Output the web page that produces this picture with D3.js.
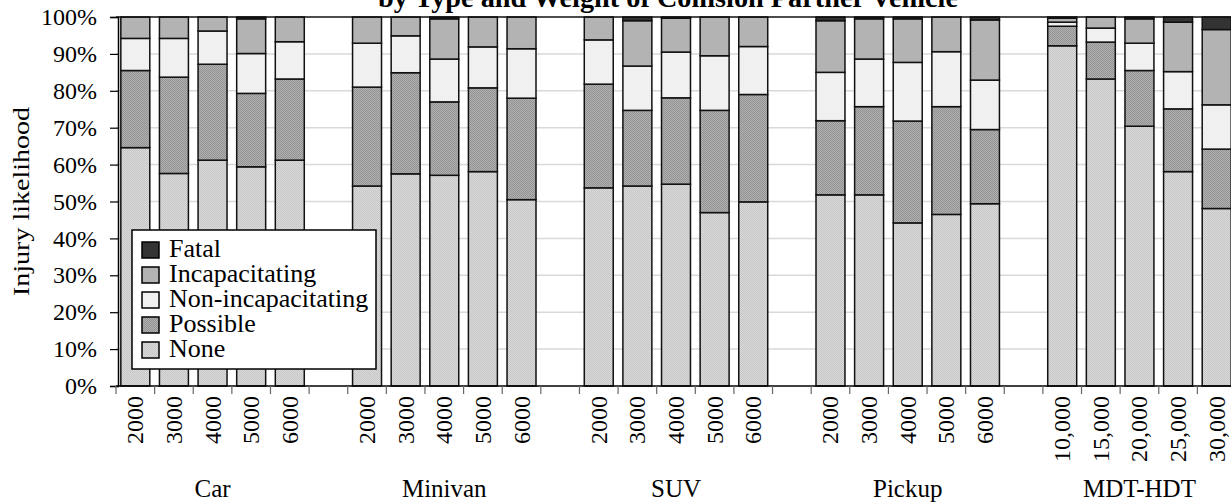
<!DOCTYPE html>
<html>
<head>
<meta charset="utf-8">
<script src="https://cdn.jsdelivr.net/npm/d3@7"></script>
<style>
  body { margin: 0; background: #fff; }
  svg text { font-family: "Liberation Serif", "Times New Roman", serif; fill: #000; }
</style>
</head>
<body>
<div id="chart"></div>
<script>
// vehicle types and the weight classes of the collision partner
var groups = ["Car", "Minivan", "SUV", "Pickup", "MDT-HDT"];
var weights = [
  ["2000", "3000", "4000", "5000", "6000"],
  ["2000", "3000", "4000", "5000", "6000"],
  ["2000", "3000", "4000", "5000", "6000"],
  ["2000", "3000", "4000", "5000", "6000"],
  ["10,000", "15,000", "20,000", "25,000", "30,000"]
];

// share of each injury level (%), 25 bars in group order
var none     = [64.6, 57.6, 61.2, 59.4, 61.2,  54.2, 57.5, 57.1, 58.1, 50.5,  53.7, 54.2, 54.7, 47.0, 49.9,  51.8, 51.8, 44.2, 46.5, 49.4,  92.2, 83.2, 70.4, 58.1, 48.1];
var possible = [20.9, 26.1, 26.0, 19.9, 22.0,  26.8, 27.4, 19.9, 22.7, 27.5,  28.1, 20.5, 23.4, 27.7, 29.1,  20.1, 23.9, 27.6, 29.2, 20.1,   5.3, 10.0, 15.1, 17.0, 16.1];
var nonInc   = [ 8.7, 10.5,  9.0, 10.8, 10.1,  11.9, 10.0, 11.6, 11.1, 13.4,  12.0, 12.0, 12.4, 14.8, 13.0,  13.1, 12.9, 15.9, 14.9, 13.4,   1.1,  3.8,  7.4, 10.1, 12.0];
var incap    = [ 5.8,  5.8,  3.8,  9.4,  6.7,   7.1,  5.1, 10.9,  8.1,  8.6,   6.2, 12.3,  9.2, 10.5,  8.0,  14.0, 10.9, 11.8,  9.4, 16.3,   1.1,  3.0,  6.6, 13.4, 20.4];
var fatal    = [ 0.0,  0.0,  0.0,  0.5,  0.0,   0.0,  0.0,  0.5,  0.0,  0.0,   0.0,  1.0,  0.3,  0.0,  0.0,   1.0,  0.5,  0.5,  0.0,  0.8,   0.3,  0.0,  0.5,  1.4,  3.4];

var seriesKeys   = ["None", "Possible", "Non-incapacitating", "Incapacitating", "Fatal"];
var seriesValues = [none, possible, nonInc, incap, fatal];
var yTicks = [0, 10, 20, 30, 40, 50, 60, 70, 80, 90, 100];

var width = 1231, height = 504;
var plotLeft = 116, plotRight = 1236, plotTop = 17, plotBottom = 386;

// one slot per bar plus an empty slot between groups
var slots = [], rows = [];
groups.forEach(function (g, gi) {
  if (gi > 0) slots.push("gap" + gi);
  weights[gi].forEach(function (w, wi) {
    var key = g + "|" + w, idx = gi * 5 + wi;
    slots.push(key);
    var row = { key: key, group: g, weight: w };
    seriesKeys.forEach(function (s, si) { row[s] = seriesValues[si][idx]; });
    rows.push(row);
  });
});

var x = d3.scaleBand().domain(slots).range([plotLeft, plotRight])
  .paddingInner(0.25).paddingOuter(0.125);
var y = d3.scaleLinear().domain([0, 100]).range([plotBottom, plotTop]);

var svg = d3.select("#chart").append("svg")
  .attr("width", width).attr("height", height);

// textures
var defs = svg.append("defs");
function dither(id, base, dot) {
  var p = defs.append("pattern").attr("id", id)
    .attr("width", 2).attr("height", 2).attr("patternUnits", "userSpaceOnUse");
  p.append("rect").attr("width", 2).attr("height", 2).attr("fill", base);
  p.append("rect").attr("width", 1).attr("height", 1).attr("fill", dot);
  p.append("rect").attr("x", 1).attr("y", 1).attr("width", 1).attr("height", 1).attr("fill", dot);
}
dither("texNone", "#dadada", "#c6c6c6");
dither("texPossible", "#b0b0b0", "#939393");

var color = d3.scaleOrdinal().domain(seriesKeys)
  .range(["url(#texNone)", "url(#texPossible)", "#f0f0f0", "#b3b3b3", "#333333"]);

// grid
svg.append("g").selectAll("line").data(yTicks.slice(1, -1)).enter().append("line")
  .attr("x1", plotLeft).attr("x2", plotRight)
  .attr("y1", function (d) { return y(d); }).attr("y2", function (d) { return y(d); })
  .style("stroke", "#d9d9d9").style("stroke-width", 1.5);

// stacked bars
var stacked = d3.stack().keys(seriesKeys)(rows);
svg.append("g").selectAll("g").data(stacked).enter().append("g")
  .attr("fill", function (d) { return color(d.key); })
  .selectAll("rect").data(function (d) { return d; }).enter().append("rect")
  .attr("x", function (d) { return x(d.data.key); })
  .attr("width", x.bandwidth())
  .attr("y", function (d) { return y(d[1]); })
  .attr("height", function (d) { return y(d[0]) - y(d[1]); })
  .style("stroke", "#111").style("stroke-width", 1.5);

// top frame line
svg.append("line").attr("x1", plotLeft).attr("x2", plotRight)
  .attr("y1", y(100)).attr("y2", y(100))
  .style("stroke", "#111").style("stroke-width", 1.5);

// y axis
var yAxis = svg.append("g").attr("transform", "translate(" + (plotLeft + 2) + ",0)")
  .call(d3.axisLeft(y).tickValues(yTicks).tickSize(8).tickPadding(13)
    .tickFormat(function (d) { return d + "%"; }));
yAxis.select(".domain").style("stroke", "#000").style("stroke-width", 1.5);
yAxis.selectAll(".tick line").style("stroke", "#000").style("stroke-width", 1.2);
yAxis.selectAll(".tick text").style("font-size", "24px").style("font-family", "Liberation Serif, serif");

svg.append("text")
  .attr("transform", "translate(29," + ((plotTop + plotBottom) / 2) + ") rotate(-90)")
  .attr("text-anchor", "middle")
  .style("font-size", "24px")
  .attr("textLength", 189).attr("lengthAdjust", "spacingAndGlyphs")
  .text("Injury likelihood");

// x axis line and ticks at slot boundaries
svg.append("line").attr("x1", plotLeft).attr("x2", plotRight)
  .attr("y1", plotBottom).attr("y2", plotBottom)
  .style("stroke", "#000").style("stroke-width", 1.5);
var boundaries = slots.map(function (s) { return x(s) - x.step() * x.paddingInner() / 2; });
svg.append("g").selectAll("line").data(boundaries).enter().append("line")
  .attr("x1", function (d) { return d; }).attr("x2", function (d) { return d; })
  .attr("y1", plotBottom).attr("y2", plotBottom + 8)
  .style("stroke", "#666").style("stroke-width", 1.2);

// weight labels
svg.append("g").selectAll("text").data(rows).enter().append("text")
  .attr("transform", function (d) {
    return "translate(" + (x(d.key) + x.bandwidth() / 2 + 8) + "," + (plotBottom + 10) + ") rotate(-90)";
  })
  .attr("text-anchor", "end")
  .style("font-size", "24px")
  .text(function (d) { return d.weight; });

// group labels
svg.append("g").selectAll("text").data(groups).enter().append("text")
  .attr("x", function (g) { return x(g + "|" + weights[groups.indexOf(g)][2]) + x.bandwidth() / 2; })
  .attr("y", 497)
  .attr("text-anchor", "middle")
  .style("font-size", "25px")
  .text(function (g) { return g; });

// title (first line sits above the visible area)
svg.append("text")
  .attr("x", 668).attr("y", 7)
  .attr("text-anchor", "middle")
  .style("font-size", "27px").style("font-weight", "bold")
  .attr("textLength", 580).attr("lengthAdjust", "spacingAndGlyphs")
  .text("by Type and Weight of Collision Partner Vehicle");

// legend
var legendKeys = seriesKeys.slice().reverse();
var legend = svg.append("g").attr("transform", "translate(132,230)");
legend.append("rect").attr("width", 244).attr("height", 139)
  .style("fill", "#fff").style("stroke", "#000").style("stroke-width", 1.5);
var item = legend.selectAll(".item").data(legendKeys).enter().append("g")
  .attr("class", "item")
  .attr("transform", function (d, i) { return "translate(10," + (12 + i * 25) + ")"; });
item.append("rect").attr("width", 17).attr("height", 16)
  .attr("fill", function (d) { return color(d); })
  .style("stroke", "#000").style("stroke-width", 1.5);
item.append("text").attr("x", 27).attr("y", 15)
  .style("font-size", "26px")
  .text(function (d) { return d; });
</script>
</body>
</html>
